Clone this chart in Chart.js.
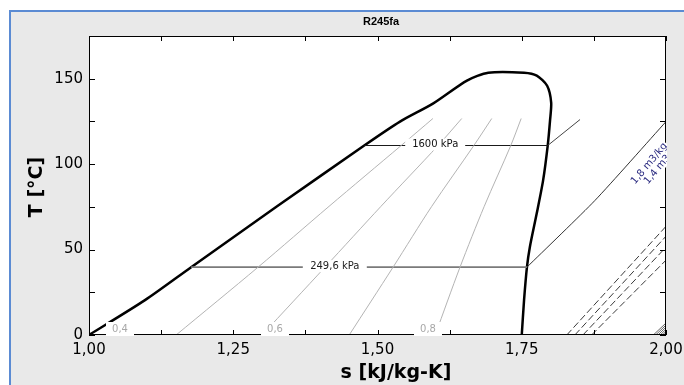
<!DOCTYPE html>
<html>
<head>
<meta charset="utf-8">
<script src="https://cdn.jsdelivr.net/npm/chart.js@4"></script>
<style>
  body { margin: 0; background: #fff; }
</style>
</head>
<body>
<canvas id="tsChart" width="684" height="385"></canvas>
<script>
// R245fa T-s diagram
const chartTitle = 'R245fa';
const xTicks = [1, 1.25, 1.5, 1.75, 2];
const yTicks = [0, 50, 100, 150];

// saturation dome (liquid side, then vapour side)
const liqS = [1.000, 1.097, 1.177, 1.326, 1.477, 1.539, 1.596, 1.655, 1.692];
const liqT = [0, 20.4, 39.7, 75.3, 110.9, 124.9, 135.4, 148.9, 153.5];
const vapS = [1.754, 1.776, 1.794, 1.801, 1.799, 1.795, 1.787, 1.776, 1.764, 1.759, 1.754, 1.750];
const vapT = [153.5, 151.8, 145.9, 136.0, 125.5, 110.9, 90.5, 71.2, 51.4, 39.7, 20.4, 0];

// quality lines
const qualT = [0, 39.7, 75.3, 110.9, 126.7];
const q02S = [1.151, 1.293, 1.416, 1.541, 1.596];
const q04S = [1.300, 1.409, 1.506, 1.605, 1.646];
const q06S = [1.451, 1.527, 1.594, 1.667, 1.698];
const q08S = [1.600, 1.643, 1.685, 1.731, 1.749];

// isobars
const p1600S = [1.477, 1.795];
const p1600T = [110.9, 110.9];
const p1600SupS = [1.795, 1.851];
const p1600SupT = [110.9, 126.1];
const p250S = [1.177, 1.759];
const p250T = [39.7, 39.7];
const p250SupS = [1.759, 1.877, 2.0];
const p250SupT = [39.7, 78.8, 124.9];

// isochores (dashed)
const vStartS = [1.828, 1.842, 1.856, 1.871];
const vEndT = [63.6, 57.8, 51.4, 43.8];
const hatchStartS = [1.978, 1.982, 1.986, 1.990, 1.994, 1.998];
const hatchEndT = [7.0, 5.8, 4.6, 3.4, 2.2, 1.0];

const pts = (s, t) => s.map((v, i) => ({ x: v, y: t[i] }));

function line(data, color, width, extra) {
    return Object.assign({
        data: data,
        showLine: true,
        pointRadius: 0,
        borderColor: color,
        borderWidth: width,
        tension: 0
    }, extra || {});
}

const datasets = [
    line(pts(q02S, qualT), '#b4b4b4', 1, { tension: 0.3 }),
    line(pts(q04S, qualT), '#b4b4b4', 1, { tension: 0.3 }),
    line(pts(q06S, qualT), '#b4b4b4', 1, { tension: 0.3 }),
    line(pts(q08S, qualT), '#b4b4b4', 1, { tension: 0.3 }),
    line(pts(p1600S, p1600T), '#1a1a1a', 1.2),
    line(pts(p1600SupS, p1600SupT), '#444', 1),
    line(pts(p250S, p250T), '#7a7a7a', 1.6),
    line(pts(p250SupS, p250SupT), '#333', 1, { tension: 0.2 })
];
vStartS.forEach((s, i) => {
    datasets.push(line([{ x: s, y: 0 }, { x: 2, y: vEndT[i] }], '#3a3a3a', 1, { borderDash: [7, 3] }));
});
hatchStartS.forEach((s, i) => {
    datasets.push(line([{ x: s, y: 0 }, { x: 2, y: hatchEndT[i] }], '#666', 1));
});
datasets.push(line(pts(liqS.concat(vapS), liqT.concat(vapT)), '#000', 2.5, { tension: 0.25 }));

function boxText(c, text, x, y, color, font, w, h) {
    c.font = font;
    c.fillStyle = '#fff';
    c.fillRect(x - w / 2, y - h / 2, w, h);
    c.fillStyle = color;
    c.textAlign = 'center';
    c.textBaseline = 'middle';
    c.fillText(text, x, y);
}

const frame = {
    id: 'frame',
    beforeDraw(chart) {
        const c = chart.ctx, a = chart.chartArea;
        c.save();
        c.fillStyle = '#fff';
        c.fillRect(0, 0, chart.width, chart.height);
        c.fillStyle = '#e9e9e9';
        c.fillRect(9, 10, chart.width, chart.height);
        c.strokeStyle = '#5b8bd3';
        c.lineWidth = 2;
        c.beginPath();
        c.moveTo(10, chart.height);
        c.lineTo(10, 11);
        c.lineTo(chart.width, 11);
        c.stroke();
        c.fillStyle = '#fff';
        c.fillRect(a.left, a.top, a.right - a.left, a.bottom - a.top);
        c.restore();
    },
    afterDatasetsDraw(chart) {
        const c = chart.ctx, a = chart.chartArea;
        const xs = chart.scales.x, ys = chart.scales.y;
        c.save();
        // border
        c.strokeStyle = '#000';
        c.lineWidth = 1;
        c.strokeRect(a.left + 0.5, a.top + 0.5, a.right - a.left - 1, a.bottom - a.top - 1);
        // inward ticks, major + minor
        c.beginPath();
        for (let i = 0; i < xTicks.length; i++) {
            const vals = [xTicks[i]];
            if (i < xTicks.length - 1) vals.push((xTicks[i] + xTicks[i + 1]) / 2);
            vals.forEach(v => {
                const px = Math.round(xs.getPixelForValue(v)) + 0.5;
                c.moveTo(px, a.bottom); c.lineTo(px, a.bottom - 5);
                c.moveTo(px, a.top); c.lineTo(px, a.top + 5);
            });
        }
        const yAll = yTicks.concat(yTicks.map(v => v + 25));
        yAll.forEach(v => {
            if (v > 175) return;
            const py = Math.round(ys.getPixelForValue(v)) + 0.5;
            c.moveTo(a.left, py); c.lineTo(a.left + 6, py);
            c.moveTo(a.right, py); c.lineTo(a.right - 6, py);
        });
        c.stroke();

        // isobar labels
        boxText(c, '1600 kPa', xs.getPixelForValue(1.600), ys.getPixelForValue(110.9) - 1,
            '#111', '10px "DejaVu Sans"', 60, 12);
        boxText(c, '249,6 kPa', xs.getPixelForValue(1.426), ys.getPixelForValue(39.7) - 1,
            '#222', '10px "DejaVu Sans"', 64, 12);

        // quality labels on the bottom edge
        [['0,4', 120], ['0,6', 275], ['0,8', 428]].forEach(q => {
            boxText(c, q[0], q[1], a.bottom - 6, '#a8a8a8', '10px "DejaVu Sans"', 28, 14);
        });

        // isochore labels, cut at the right edge
        c.save();
        c.beginPath();
        c.rect(0, 0, a.right + 1, chart.height);
        c.clip();
        [['1,8 m3/kg', 633, 183], ['1,4 m3/kg', 646, 183]].forEach(l => {
            c.save();
            c.translate(l[1], l[2]);
            c.rotate(-0.87);
            c.font = '10px "DejaVu Sans"';
            const w = c.measureText(l[0]).width;
            c.fillStyle = '#fff';
            c.fillRect(-1, -5, w + 2, 10);
            c.fillStyle = '#2b2b80';
            c.textAlign = 'left';
            c.textBaseline = 'middle';
            c.fillText(l[0], 0, 0);
            c.restore();
        });
        c.restore();

        // titles
        c.fillStyle = '#000';
        c.textAlign = 'center';
        c.textBaseline = 'middle';
        c.font = 'bold 11px "Liberation Sans"';
        c.fillText(chartTitle, 381, 22);
        c.font = 'bold 19px "DejaVu Sans"';
        c.fillText('s [kJ/kg-K]', 396, 373);
        c.save();
        c.translate(37, 187);
        c.rotate(-Math.PI / 2);
        c.fillText('T [°C]', 0, 0);
        c.restore();
        c.restore();
    }
};

const tickFont = { family: 'DejaVu Sans', size: 15 };

new Chart(document.getElementById('tsChart').getContext('2d'), {
    type: 'scatter',
    data: { datasets: datasets },
    options: {
        responsive: false,
        animation: false,
        layout: { padding: { top: 36, right: 18, left: 0, bottom: 0 } },
        plugins: {
            legend: { display: false },
            tooltip: { enabled: false }
        },
        scales: {
            x: {
                type: 'linear',
                min: 1,
                max: 2,
                afterFit(s) {
                    s.height = 50;
                    s.paddingLeft = 0;
                    s.paddingRight = 0;
                },
                afterBuildTicks(s) { s.ticks = xTicks.map(v => ({ value: v })); },
                grid: { display: false, drawTicks: false },
                border: { display: false },
                ticks: {
                    padding: 6,
                    color: '#000',
                    font: tickFont,
                    maxRotation: 0,
                    autoSkip: false,
                    callback: v => v.toFixed(2).replace('.', ',')
                }
            },
            y: {
                type: 'linear',
                min: 0,
                max: 175,
                afterFit(s) {
                    s.width = 89;
                    s.paddingTop = 0;
                    s.paddingBottom = 0;
                },
                afterBuildTicks(s) { s.ticks = yTicks.map(v => ({ value: v })); },
                grid: { display: false, drawTicks: false },
                border: { display: false },
                ticks: {
                    padding: 6,
                    color: '#000',
                    font: tickFont,
                    autoSkip: false
                }
            }
        }
    },
    plugins: [frame]
});
</script>
</body>
</html>
